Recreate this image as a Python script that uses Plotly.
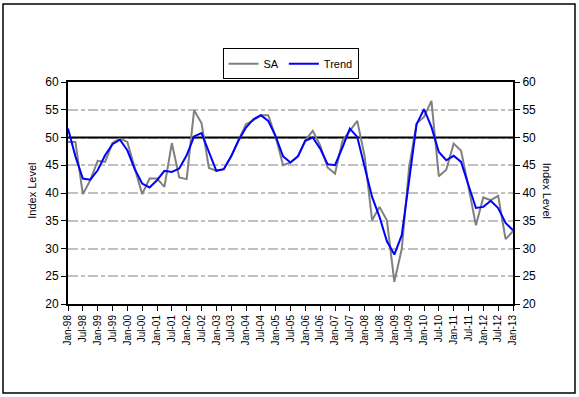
import plotly.graph_objects as go

# Quarterly dates Jan-98 .. Jan-13
quarters = []
for y in range(1998, 2014):
    for m in ["Jan", "Apr", "Jul", "Oct"]:
        quarters.append(f"{m}-{str(y)[2:]}")
quarters = quarters[:61]

sa = [49.2, 49.2, 39.8, 42.3, 45.8, 45.6, 49.0, 49.8, 49.2, 44.5,
      39.8, 42.6, 42.6, 41.1, 49.0, 42.8, 42.5, 54.9, 52.6, 44.5,
      44.0, 44.3, 46.6, 49.5, 52.4, 53.1, 54.0, 54.0, 50.1, 45.0,
      45.5, 46.6, 49.5, 51.2, 48.6, 44.6, 43.5, 49.4, 51.3, 53.0,
      46.6, 35.1, 37.5, 35.1, 24.0, 29.9, 44.7, 52.5, 53.7, 56.6,
      43.0, 44.2, 48.9, 47.6, 41.1, 34.2, 39.2, 38.7, 39.5, 31.7,
      33.1]

trend = [51.6, 46.6, 42.6, 42.4, 44.1, 46.8, 48.8, 49.6, 47.7, 44.3,
         41.7, 41.0, 42.3, 44.0, 43.8, 44.4, 46.8, 50.2, 50.8, 47.4,
         44.0, 44.3, 46.6, 49.5, 51.8, 53.3, 54.0, 53.0, 50.2, 46.6,
         45.5, 46.6, 49.4, 50.0, 48.0, 45.2, 45.0, 48.2, 51.6, 50.1,
         44.7, 39.3, 35.7, 31.3, 28.9, 32.4, 42.3, 52.4, 55.1, 51.9,
         47.4, 45.9, 46.7, 45.6, 41.4, 37.3, 37.5, 38.6, 37.3, 34.6,
         33.3]

y_ticks = [20, 25, 30, 35, 40, 45, 50, 55, 60]

x_idx = list(range(len(quarters)))
tick_idx = x_idx[::2]
tick_text = [quarters[i] for i in tick_idx]

FONT = "Liberation Sans, Arial, sans-serif"

fig = go.Figure()
fig.add_trace(go.Scatter(x=x_idx, y=sa, mode="lines", name="SA",
                         line=dict(color="#808080", width=2)))
fig.add_trace(go.Scatter(x=x_idx, y=trend, mode="lines", name="Trend",
                         line=dict(color="#0000FF", width=2)))
fig.add_trace(go.Scatter(x=[x_idx[0]], y=[sa[0]], yaxis="y2", mode="lines",
                         showlegend=False, hoverinfo="skip",
                         line=dict(color="rgba(0,0,0,0)")))

fig.update_layout(
    width=579, height=397,
    margin=dict(l=68, r=66, t=82, b=93, autoexpand=False),
    paper_bgcolor="white", plot_bgcolor="white",
    font=dict(family=FONT, color="black"),
    showlegend=True,
    legend=dict(orientation="h", x=0.5, xanchor="center", y=1.152, yanchor="top",
                bordercolor="black", borderwidth=1, font=dict(size=11),
                itemwidth=30, tracegroupgap=0),
    xaxis=dict(range=[0, 60], tickmode="array", tickvals=tick_idx, ticktext=tick_text,
               tickangle=-90, tickfont=dict(size=10), ticks="outside", ticklen=5,
               tickcolor="black", showgrid=False, showline=True, linecolor="black",
               linewidth=2, mirror=True, zeroline=False),
    yaxis=dict(range=[20, 60], tickvals=y_ticks, tickfont=dict(size=12),
               ticks="outside", ticklen=5, tickcolor="black", showline=True,
               linecolor="black", linewidth=2, showgrid=True, gridcolor="#C0C0C0",
               gridwidth=2, griddash="10px,3px,4px,3px", zeroline=False),
    yaxis2=dict(range=[20, 60], tickvals=y_ticks, tickfont=dict(size=12),
                overlaying="y", side="right", ticks="outside", ticklen=5,
                tickcolor="black", showline=True, linecolor="black", linewidth=2,
                showgrid=False, zeroline=False),
    shapes=[
        dict(type="line", xref="x", yref="y", x0=0, x1=60, y0=50, y1=50,
             line=dict(color="black", width=2), layer="between"),
        dict(type="rect", xref="paper", yref="paper",
             x0=(3 - 68) / 445, x1=(575 - 68) / 445,
             y0=(304 - 393) / 222, y1=1 + (82 - 4) / 222,
             line=dict(color="black", width=1.5)),
    ],
    annotations=[
        dict(text="Index Level", xref="paper", yref="paper", x=(32 - 68) / 445, y=0.51,
             textangle=-90, showarrow=False, font=dict(size=11), xanchor="center",
             yanchor="middle"),
        dict(text="Index Level", xref="paper", yref="paper", x=(547 - 68) / 445, y=0.51,
             textangle=90, showarrow=False, font=dict(size=11), xanchor="center",
             yanchor="middle"),
    ],
)

fig.write_html("out.html", config={"displayModeBar": False},
               post_script="document.body.style.margin='0';")
